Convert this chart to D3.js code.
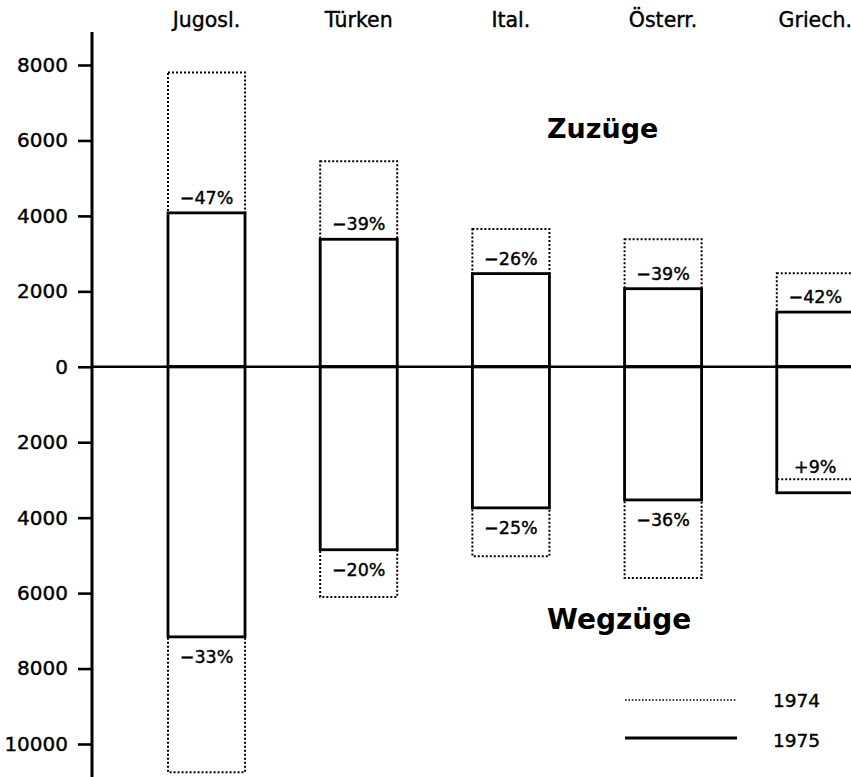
<!DOCTYPE html>
<html lang="de">
<head>
<meta charset="utf-8">
<title>Zuzüge und Wegzüge</title>
<script src="https://cdn.jsdelivr.net/npm/d3@7"></script>
<style>
  html, body { margin: 0; padding: 0; background: #fff; }
  svg text { font-family: "DejaVu Sans", sans-serif; fill: #000; }
  svg text.med { stroke: #000; stroke-width: 0.4px; }
</style>
</head>
<body>
<script>
// values (persons)
let categories = ["Jugosl.", "Türken", "Ital.", "Österr.", "Griech."];
let zuzuege1974 = [7800, 5450, 3650, 3380, 2480];
let zuzuege1975 = [4080, 3380, 2470, 2070, 1450];
let wegzuege1974 = [10750, 6100, 5020, 5600, 2980];
let wegzuege1975 = [7160, 4850, 3740, 3530, 3340];
let pctZuzuege = ["\u221247%", "\u221239%", "\u221226%", "\u221239%", "\u221242%"];
let pctWegzuege = ["\u221233%", "\u221220%", "\u221225%", "\u221236%", "+9%"];
let yTicks = [-10000, -8000, -6000, -4000, -2000, 0, 2000, 4000, 6000, 8000];
let years = ["1974", "1975"];

let w = 851;
let h = 777;
let axisX = 92;

let svg = d3.select("body")
  .append("svg")
  .attr("width", w)
  .attr("height", h);

let xScale = d3.scaleBand()
  .domain(categories)
  .range([168, 853.8])
  .paddingInner(0.494)
  .paddingOuter(0);

let yScale = d3.scaleLinear()
  .domain([-10000, 8000])
  .range([744, 65]);

// y axis, labels show absolute numbers on both sides of zero
let yAxis = d3.axisLeft(yScale)
  .tickValues(yTicks)
  .tickFormat(d => Math.abs(d))
  .tickSize(14)
  .tickPadding(10);

let yax = svg.append("g")
  .attr("transform", "translate(" + axisX + ",0)")
  .call(yAxis);
yax.select(".domain").remove();
yax.selectAll(".tick line").attr("stroke", "#000").attr("stroke-width", 2.6);
yax.selectAll(".tick text")
  .attr("class", "med")
  .attr("font-size", "20px")
  .attr("font-family", "DejaVu Sans, sans-serif")
  .attr("fill", "#000");

svg.append("line")
  .attr("x1", axisX).attr("x2", axisX)
  .attr("y1", 32).attr("y2", h)
  .attr("stroke", "#000").attr("stroke-width", 3);

// 1974 boxes, dotted
let dotted = "2,2";
let bars74 = svg.append("g");
bars74.selectAll("rect.zu")
  .data(categories)
  .enter()
  .append("rect")
  .attr("x", d => xScale(d))
  .attr("y", (d, i) => yScale(zuzuege1974[i]))
  .attr("width", xScale.bandwidth())
  .attr("height", (d, i) => yScale(0) - yScale(zuzuege1974[i]))
  .attr("fill", "none").attr("stroke", "#000")
  .attr("stroke-width", 2).attr("stroke-dasharray", dotted);
bars74.selectAll("rect.weg")
  .data(categories)
  .enter()
  .append("rect")
  .attr("x", d => xScale(d))
  .attr("y", yScale(0))
  .attr("width", xScale.bandwidth())
  .attr("height", (d, i) => yScale(-wegzuege1974[i]) - yScale(0))
  .attr("fill", "none").attr("stroke", "#000")
  .attr("stroke-width", 2).attr("stroke-dasharray", dotted);

// zero line
svg.append("line")
  .attr("x1", axisX).attr("x2", w)
  .attr("y1", yScale(0)).attr("y2", yScale(0))
  .attr("stroke", "#000").attr("stroke-width", 2.6);

// 1975 boxes, solid
let bars75 = svg.append("g");
bars75.selectAll("rect.zu")
  .data(categories)
  .enter()
  .append("rect")
  .attr("x", d => xScale(d))
  .attr("y", (d, i) => yScale(zuzuege1975[i]))
  .attr("width", xScale.bandwidth())
  .attr("height", (d, i) => yScale(0) - yScale(zuzuege1975[i]))
  .attr("fill", "none").attr("stroke", "#000").attr("stroke-width", 2.8);
bars75.selectAll("rect.weg")
  .data(categories)
  .enter()
  .append("rect")
  .attr("x", d => xScale(d))
  .attr("y", yScale(0))
  .attr("width", xScale.bandwidth())
  .attr("height", (d, i) => yScale(-wegzuege1975[i]) - yScale(0))
  .attr("fill", "none").attr("stroke", "#000").attr("stroke-width", 2.8);

// percent changes
let cx = d => xScale(d) + xScale.bandwidth() / 2;
svg.selectAll("text.pz")
  .data(categories)
  .enter()
  .append("text")
  .attr("class", "med")
  .attr("x", cx)
  .attr("y", (d, i) => yScale(zuzuege1975[i]) - 9)
  .attr("text-anchor", "middle")
  .attr("font-size", "17.5px")
  .text((d, i) => pctZuzuege[i]);

svg.selectAll("text.pw")
  .data(categories)
  .enter()
  .append("text")
  .attr("class", "med")
  .attr("x", cx)
  .attr("y", (d, i) => wegzuege1975[i] < wegzuege1974[i]
    ? yScale(-wegzuege1975[i]) + 26
    : yScale(-wegzuege1974[i]) - 6)
  .attr("text-anchor", "middle")
  .attr("font-size", "17.5px")
  .text((d, i) => pctWegzuege[i]);

// country names on top
svg.selectAll("text.cat")
  .data(categories)
  .enter()
  .append("text")
  .attr("class", "med")
  .attr("x", cx)
  .attr("y", 27)
  .attr("text-anchor", "middle")
  .attr("font-size", "20.5px")
  .text(d => d);

svg.append("text")
  .attr("x", 547).attr("y", 138)
  .attr("font-size", "27px").attr("font-weight", "bold")
  .text("Zuzüge");

svg.append("text")
  .attr("x", 547).attr("y", 629)
  .attr("font-size", "28px").attr("font-weight", "bold")
  .text("Wegzüge");

// legend
let legend = svg.append("g");
legend.selectAll("line")
  .data(years)
  .enter()
  .append("line")
  .attr("x1", 625).attr("x2", 737)
  .attr("y1", (d, i) => 700 + i * 38)
  .attr("y2", (d, i) => 700 + i * 38)
  .attr("stroke", "#000")
  .attr("stroke-width", (d, i) => i == 0 ? 1.6 : 2.8)
  .attr("stroke-dasharray", (d, i) => i == 0 ? "1.6,1.8" : null);
legend.selectAll("text")
  .data(years)
  .enter()
  .append("text")
  .attr("class", "med")
  .attr("x", 773)
  .attr("y", (d, i) => 707 + i * 40)
  .attr("font-size", "18.5px")
  .text(d => d);
</script>
</body>
</html>
